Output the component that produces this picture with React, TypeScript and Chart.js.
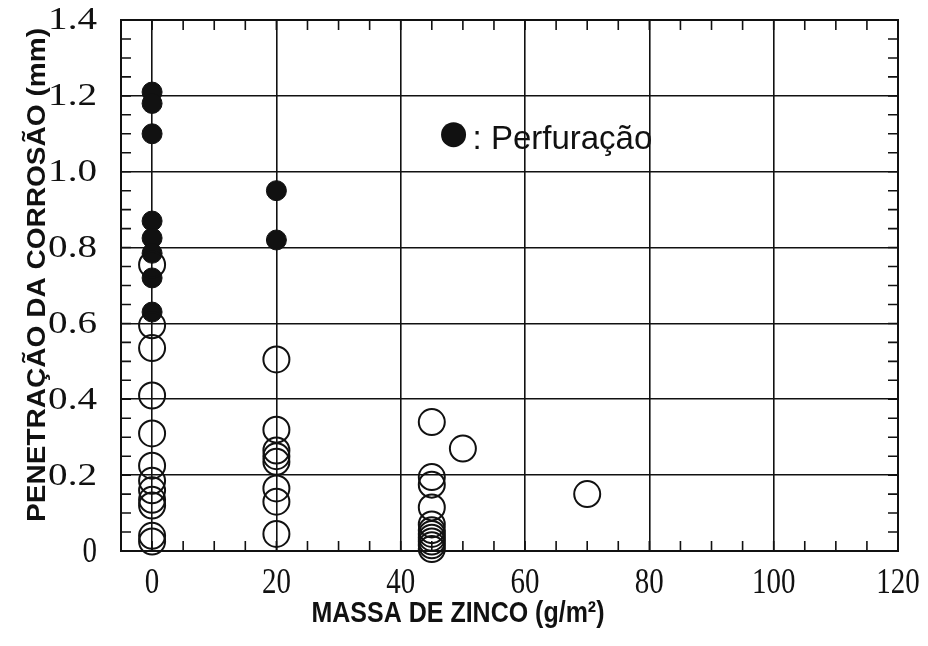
import React, { useEffect, useRef } from "react";
import { Chart, registerables } from "chart.js";

Chart.register(...registerables);

// Perforated specimens (filled circles)
const perfX = [0, 0, 0, 0, 0, 0, 0, 0, 20, 20];
const perfY = [1.21, 1.18, 1.1, 0.87, 0.825, 0.785, 0.72, 0.63, 0.95, 0.82];

// Non-perforated specimens (open circles)
const openX = [
  0, 0, 0, 0, 0, 0, 0, 0, 0, 0, 0, 0,
  20, 20, 20, 20, 20, 20, 20, 20,
  45, 45, 45, 45, 45, 45, 45, 45, 45, 45, 45,
  50, 70,
];
const openY = [
  0.755, 0.595, 0.535, 0.41, 0.31, 0.225, 0.185, 0.16, 0.135, 0.12, 0.04, 0.025,
  0.505, 0.32, 0.265, 0.25, 0.235, 0.165, 0.13, 0.045,
  0.34, 0.195, 0.175, 0.115, 0.07, 0.055, 0.045, 0.035, 0.025, 0.015, 0.005,
  0.27, 0.15,
];

const xMin = -5;
const xMax = 120;
const yMin = 0;
const yMax = 1.4;
const xLabelStep = 20;
const yLabelStep = 0.2;
const xMinorStep = 5;
const yMinorStep = 0.05;

const xTitle = "MASSA DE ZINCO (g/m²)";
const yTitle = "PENETRAÇÃO DA CORROSÃO (mm)";
const legendLabel = ": Perfuração";

const ink = "#111";
const serif = "'Liberation Serif', 'Times New Roman', serif";
const sans = "'Liberation Sans', Arial, sans-serif";

const isMultiple = (v: number, step: number) => {
  const r = v / step;
  return Math.abs(r - Math.round(r)) < 1e-6;
};

const drawScaled = (ctx: any, text: string, x: number, y: number, sx: number, sy: number) => {
  ctx.save();
  ctx.translate(x, y);
  ctx.scale(sx, sy);
  ctx.fillText(text, 0, 0);
  ctx.restore();
};

const framePlugin = {
  id: "frameAndTicks",
  afterDatasetsDraw(chart: any) {
    const { ctx, chartArea: a, scales } = chart;
    ctx.save();
    ctx.strokeStyle = ink;
    ctx.fillStyle = ink;
    ctx.lineWidth = 1.6;
    const len = 10;
    scales.x.ticks.forEach((t: any) => {
      const px = scales.x.getPixelForValue(t.value);
      if (px <= a.left + 1 || px >= a.right - 1) return;
      ctx.beginPath();
      ctx.moveTo(px, a.bottom);
      ctx.lineTo(px, a.bottom - len);
      ctx.moveTo(px, a.top);
      ctx.lineTo(px, a.top + len);
      ctx.stroke();
    });
    scales.y.ticks.forEach((t: any) => {
      const py = scales.y.getPixelForValue(t.value);
      if (py <= a.top + 1 || py >= a.bottom - 1) return;
      ctx.beginPath();
      ctx.moveTo(a.left, py);
      ctx.lineTo(a.left + len, py);
      ctx.moveTo(a.right, py);
      ctx.lineTo(a.right - len, py);
      ctx.stroke();
    });
    ctx.lineWidth = 2;
    ctx.strokeRect(a.left, a.top, a.right - a.left, a.bottom - a.top);

    // tick labels (serif, slightly stretched like the scanned original)
    ctx.font = "29px " + serif;
    ctx.textAlign = "center";
    ctx.textBaseline = "middle";
    scales.x.ticks.forEach((t: any) => {
      if (!t.label) return;
      drawScaled(ctx, String(t.label), scales.x.getPixelForValue(t.value), a.bottom + 33, 1, 1.22);
    });
    ctx.textAlign = "right";
    scales.y.ticks.forEach((t: any) => {
      if (!t.label) return;
      const s = String(t.label);
      const py = scales.y.getPixelForValue(t.value);
      if (s.length > 1) drawScaled(ctx, s, a.left - 24, py + 1, 1.35, 1.1);
      else drawScaled(ctx, s, a.left - 24, py + 2, 1.0, 1.22);
    });

    // legend marker + label
    const lx = a.left + (a.right - a.left) * 0.428;
    const ly = a.top + (a.bottom - a.top) * 0.216;
    ctx.beginPath();
    ctx.arc(lx, ly, 12.5, 0, Math.PI * 2);
    ctx.fill();
    ctx.font = "33px " + sans;
    ctx.textAlign = "left";
    ctx.textBaseline = "middle";
    ctx.fillText(legendLabel, lx + 19, ly + 5);

    // axis titles
    ctx.font = "bold 25px " + sans;
    ctx.textAlign = "center";
    ctx.textBaseline = "middle";
    drawScaled(ctx, xTitle, 458, 614, 1, 1.18);
    ctx.save();
    ctx.translate(38, 275);
    ctx.rotate(-Math.PI / 2);
    const w = ctx.measureText(yTitle).width;
    ctx.scale(494 / w, 1);
    ctx.fillText(yTitle, 0, 0);
    ctx.restore();
    ctx.restore();
  },
};

export default function App() {
  const ref = useRef<HTMLCanvasElement>(null);
  useEffect(() => {
    const chart = new Chart(ref.current!, {
      type: "scatter",
      data: {
        datasets: [
          {
            label: "open",
            data: openX.map((x, i) => ({ x, y: openY[i] })),
            pointRadius: 13,
            pointBorderWidth: 2,
            pointBorderColor: ink,
            pointBackgroundColor: "rgba(0,0,0,0)",
          },
          {
            label: "Perfuração",
            data: perfX.map((x, i) => ({ x, y: perfY[i] })),
            pointRadius: 10,
            pointBorderWidth: 1,
            pointBorderColor: ink,
            pointBackgroundColor: ink,
          },
        ],
      },
      options: {
        animation: false,
        responsive: true,
        maintainAspectRatio: false,
        clip: false as any,
        layout: { padding: { left: 0, top: 20, right: 30, bottom: 0 } },
        plugins: {
          legend: { display: false },
          tooltip: { enabled: false },
        },
        scales: {
          x: {
            type: "linear",
            min: xMin,
            max: xMax,
            afterFit: (s: any) => {
              s.height = 95;
              s.paddingLeft = 0;
              s.paddingRight = 0;
            },
            ticks: {
              display: false,
              stepSize: xMinorStep,
              autoSkip: false,
              callback: (v: any) => (isMultiple(Number(v), xLabelStep) ? String(Math.round(Number(v))) : ""),
            },
            grid: {
              drawTicks: false,
              lineWidth: 1.6,
              color: (c: any) =>
                c.tick && isMultiple(c.tick.value, xLabelStep) ? ink : "rgba(0,0,0,0)",
            },
            border: { display: false },
          },
          y: {
            type: "linear",
            min: yMin,
            max: yMax,
            afterFit: (s: any) => {
              s.width = 121;
              s.paddingTop = 0;
              s.paddingBottom = 0;
            },
            ticks: {
              display: false,
              stepSize: yMinorStep,
              autoSkip: false,
              callback: (v: any) => {
                const n = Number(v);
                if (!isMultiple(n, yLabelStep)) return "";
                if (Math.abs(n) < 1e-9) return "0";
                return n.toFixed(1);
              },
            },
            grid: {
              drawTicks: false,
              lineWidth: 1.6,
              color: (c: any) =>
                c.tick && isMultiple(c.tick.value, yLabelStep) ? ink : "rgba(0,0,0,0)",
            },
            border: { display: false },
          },
        },
      },
      plugins: [framePlugin],
    });
    return () => chart.destroy();
  }, []);
  return (
    <div style={{ position: "fixed", left: 0, top: 0, width: 928, height: 646, background: "#fff" }}>
      <canvas ref={ref} />
    </div>
  );
}
